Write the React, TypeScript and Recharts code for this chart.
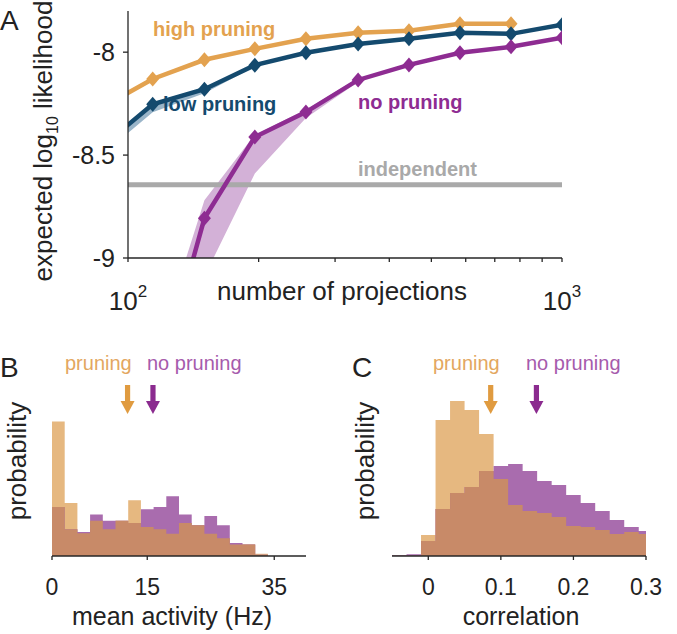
import { Area, ComposedChart, Line, ReferenceDot, ReferenceLine, XAxis, YAxis } from "recharts";

const FONT = '"Liberation Sans", Arial, Helvetica, sans-serif';
const INK = "#222222";
const AXIS = "#262626";

const ORANGE = "#e3a24f";
const NAVY = "#144a6e";
const PURPLE = "#8e2c92";
const GRAY = "#a9a9a9";
const PURPLE_BAND = "#d3b1d7";
const NAVY_BAND = "#9ab5c9";

const HIST_ORANGE = "#e6b880";
const HIST_PURPLE = "#a96cae";
const HIST_OVERLAP = "#c88a68";

// panel A: expected log10 likelihood vs number of projections
const PROJECTIONS = [87, 114, 150, 196, 257, 339, 444, 582, 763, 1000];
const HIGH_PRUNING = [-8.27, -8.13, -8.037, -7.984, -7.935, -7.906, -7.896, -7.862, -7.862, null];
const LOW_PRUNING = [-8.46, -8.253, -8.18, -8.063, -8.003, -7.96, -7.935, -7.906, -7.911, -7.867];
const NO_PRUNING = [-10.6, -9.71, -8.807, -8.412, -8.291, -8.135, -8.062, -8.003, -7.974, -7.93];
const LOW_BAND_LO = [-8.5, -8.292, -8.2, -8.07, null, null, null, null, null, null];
const LOW_BAND_HI = [-8.45, -8.245, -8.172, -8.058, null, null, null, null, null, null];
const NO_BAND_LO = [-10.8, -9.95, -9.09, -8.59, -8.32, -8.145, null, null, null, null];
const NO_BAND_HI = [-10.2, -9.51, -8.72, -8.4, -8.28, -8.125, null, null, null, null];
const INDEPENDENT = -8.644;
const A_X_TICKS = [100, 200, 300, 400, 500, 600, 700, 800, 900, 1000];
const A_Y_TICKS = [-9, -8.5, -8];

// panel B: mean activity histogram (2 Hz bins)
const B_BINS = [0, 2, 4, 6, 8, 10, 12, 14, 16, 18, 20, 22, 24, 26, 28, 30, 32, 34, 36];
const B_PRUNING = [0.236, 0.093, 0.04, 0.062, 0.047, 0.062, 0.098, 0.051, 0.047, 0.039, 0.058, 0.054, 0.039, 0.031, 0.02, 0.02, 0.004, 0];
const B_NO_PRUNING = [0.086, 0.047, 0.042, 0.073, 0.062, 0.062, 0.058, 0.082, 0.086, 0.105, 0.073, 0.054, 0.07, 0.054, 0.023, 0.02, 0.002, 0];
const B_ARROWS = [11.9, 15.9];
const B_TICKS = [0, 15, 35];

// panel C: correlation histogram (0.02 bins)
const C_BINS = [-0.05, -0.03, -0.01, 0.01, 0.03, 0.05, 0.07, 0.09, 0.11, 0.13, 0.15, 0.17, 0.19, 0.21, 0.23, 0.25, 0.27, 0.29, 0.31];
const C_PRUNING = [0.0003, 0.0003, 0.021, 0.136, 0.155, 0.146, 0.122, 0.077, 0.051, 0.045, 0.043, 0.039, 0.03, 0.029, 0.026, 0.022, 0.024, 0.022];
const C_NO_PRUNING = [0.0007, 0.0017, 0.015, 0.047, 0.063, 0.069, 0.085, 0.09, 0.092, 0.085, 0.075, 0.071, 0.061, 0.053, 0.045, 0.036, 0.029, 0.025];
const C_ARROWS = [0.086, 0.149];
const C_TICKS = [0, 0.1, 0.2, 0.3];

const rowsA = PROJECTIONS.map((n, i) => ({
  n,
  high: HIGH_PRUNING[i],
  low: LOW_PRUNING[i],
  no: NO_PRUNING[i],
  lowBand: LOW_BAND_LO[i] == null ? null : [LOW_BAND_LO[i], LOW_BAND_HI[i]],
  noBand: NO_BAND_LO[i] == null ? null : [NO_BAND_LO[i], NO_BAND_HI[i]],
}));

function histRows(bins: number[], a: number[], b: number[]) {
  return bins.map((x, i) => {
    const o = a[i] ?? 0;
    const p = b[i] ?? 0;
    return { x, o, p, m: Math.min(o, p) };
  });
}

const rowsB = histRows(B_BINS, B_PRUNING, B_NO_PRUNING);
const rowsC = histRows(C_BINS, C_PRUNING, C_NO_PRUNING);

const diamond = (color: string) => (props: any) => {
  const { cx, cy, index } = props;
  if (cx == null || cy == null) return <g key={index} />;
  return (
    <path
      key={index}
      d={`M${cx},${cy - 7.5}L${cx + 6.5},${cy}L${cx},${cy + 7.5}L${cx - 6.5},${cy}Z`}
      fill={color}
    />
  );
};

function PowerTick(props: any) {
  const { x, y, payload } = props;
  const v = payload.value;
  if (v !== 100 && v !== 1000) return <g />;
  return (
    <text x={x} y={y + 46} textAnchor="middle" fontSize={26} fill={INK} fontFamily={FONT}>
      10
      <tspan dy={-13} fontSize={17}>
        {Math.round(Math.log10(v))}
      </tspan>
    </text>
  );
}

const arrow = (color: string) => (props: any) => {
  const { cx, cy } = props;
  return (
    <g>
      <rect x={cx - 2.6} y={cy} width={5.2} height={17} fill={color} />
      <path d={`M${cx - 7},${cy + 16}L${cx + 7},${cy + 16}L${cx},${cy + 29}Z`} fill={color} />
    </g>
  );
};

function Histogram(props: {
  rows: any[];
  domain: [number, number];
  yMax: number;
  ticks: number[];
  arrows: number[];
  marginRight: number;
}) {
  const { rows, domain, yMax, ticks, arrows, marginRight } = props;
  return (
    <ComposedChart width={340} height={304} data={rows} margin={{ top: 55, right: marginRight, bottom: 48, left: 52 }}>
      <XAxis
        dataKey="x"
        type="number"
        domain={domain}
        allowDataOverflow
        ticks={ticks}
        interval={0}
        tickSize={4}
        tickMargin={19}
        height={30}
        stroke={AXIS}
        strokeWidth={1.3}
        tickFormatter={(v) => String(v)}
        tick={{ fontSize: 23, fill: INK, fontFamily: FONT }}
      />
      <YAxis type="number" domain={[0, yMax]} width={0} tick={false} tickLine={false} stroke={AXIS} strokeWidth={1.3} />
      <Area type="stepAfter" dataKey="o" fill={HIST_ORANGE} fillOpacity={1} stroke="none" isAnimationActive={false} />
      <Area type="stepAfter" dataKey="p" fill={HIST_PURPLE} fillOpacity={1} stroke="none" isAnimationActive={false} />
      <Area type="stepAfter" dataKey="m" fill={HIST_OVERLAP} fillOpacity={1} stroke="none" isAnimationActive={false} />
      <ReferenceDot x={arrows[0]} y={yMax} shape={arrow("#e09b40")} />
      <ReferenceDot x={arrows[1]} y={yMax} shape={arrow("#8b2b8f")} />
    </ComposedChart>
  );
}

export default function App() {
  return (
    <div style={{ position: "absolute", left: 0, top: 0, width: 677, height: 634, background: "#fff", fontFamily: FONT }}>
      <div style={{ position: "absolute", left: 0, top: 0 }}>
        <ComposedChart width={677} height={330} data={rowsA} margin={{ top: 11, right: 115, bottom: 42, left: 68 }}>
          <XAxis
            dataKey="n"
            type="number"
            scale="log"
            domain={[100, 1000]}
            allowDataOverflow
            ticks={A_X_TICKS}
            interval={0}
            tick={<PowerTick />}
            tickSize={4}
            height={30}
            stroke={AXIS}
            strokeWidth={1.3}
          />
          <YAxis
            type="number"
            domain={[-9, -7.8]}
            allowDataOverflow
            ticks={A_Y_TICKS}
            width={60}
            tickSize={5}
            tickMargin={8}
            tickFormatter={(v) => String(v)}
            tick={{ fontSize: 25, fill: INK, fontFamily: FONT }}
            stroke={AXIS}
            strokeWidth={1.3}
          />
          <Area dataKey="noBand" fill={PURPLE_BAND} fillOpacity={1} stroke="none" isAnimationActive={false} />
          <Area dataKey="lowBand" fill={NAVY_BAND} fillOpacity={1} stroke="none" isAnimationActive={false} />
          <ReferenceLine y={INDEPENDENT} stroke={GRAY} strokeWidth={5} />
          <Line dataKey="high" stroke={ORANGE} strokeWidth={4.5} dot={diamond(ORANGE)} isAnimationActive={false} />
          <Line dataKey="low" stroke={NAVY} strokeWidth={4.5} dot={diamond(NAVY)} isAnimationActive={false} />
          <Line dataKey="no" stroke={PURPLE} strokeWidth={4.5} dot={diamond(PURPLE)} isAnimationActive={false} />
        </ComposedChart>
      </div>
      <div style={{ position: "absolute", left: 0, top: 330 }}>
        <Histogram rows={rowsB} domain={[0, 40]} yMax={0.3} ticks={B_TICKS} arrows={B_ARROWS} marginRight={34} />
      </div>
      <div style={{ position: "absolute", left: 340, top: 330 }}>
        <Histogram rows={rowsC} domain={[-0.05, 0.3]} yMax={0.171} ticks={C_TICKS} arrows={C_ARROWS} marginRight={34} />
      </div>
      <svg
        width={677}
        height={634}
        style={{ position: "absolute", left: 0, top: 0, pointerEvents: "none" }}
        fontFamily={FONT}
      >
        <text x={0} y={30} fontSize={28} fill={INK}>A</text>
        <text x={0} y={377} fontSize={28} fill={INK}>B</text>
        <text x={352} y={377} fontSize={28} fill={INK}>C</text>

        <text x={153} y={36} fontSize={20} fontWeight="bold" fill={ORANGE}>high pruning</text>
        <text x={163} y={111} fontSize={20} fontWeight="bold" fill={NAVY}>low pruning</text>
        <text x={358} y={109} fontSize={20} fontWeight="bold" fill={PURPLE}>no pruning</text>
        <text x={358} y={176} fontSize={20} fontWeight="bold" fill={GRAY}>independent</text>

        <text x={342} y={300} fontSize={26} textAnchor="middle" fill={INK}>number of projections</text>
        <text x={52} y={141} fontSize={26} textAnchor="middle" fill={INK} transform="rotate(-90 52 141)">
          expected log<tspan dy={6} fontSize={16}>10</tspan>
          <tspan dy={-6}> likelihood</tspan>
        </text>

        <text x={65} y={370} fontSize={20} fill="#e3a75f">pruning</text>
        <text x={147} y={370} fontSize={20} fill="#a65bac">no pruning</text>
        <text x={433} y={370} fontSize={20} fill="#e3a75f">pruning</text>
        <text x={526} y={370} fontSize={20} fill="#a65bac">no pruning</text>

        <text x={26} y={461} fontSize={26} textAnchor="middle" fill={INK} transform="rotate(-90 26 461)">probability</text>
        <text x={374} y={461} fontSize={26} textAnchor="middle" fill={INK} transform="rotate(-90 374 461)">probability</text>
        <text x={172} y={625} fontSize={25} textAnchor="middle" fill={INK}>mean activity (Hz)</text>
        <text x={521} y={625} fontSize={25} textAnchor="middle" fill={INK}>correlation</text>
      </svg>
    </div>
  );
}
